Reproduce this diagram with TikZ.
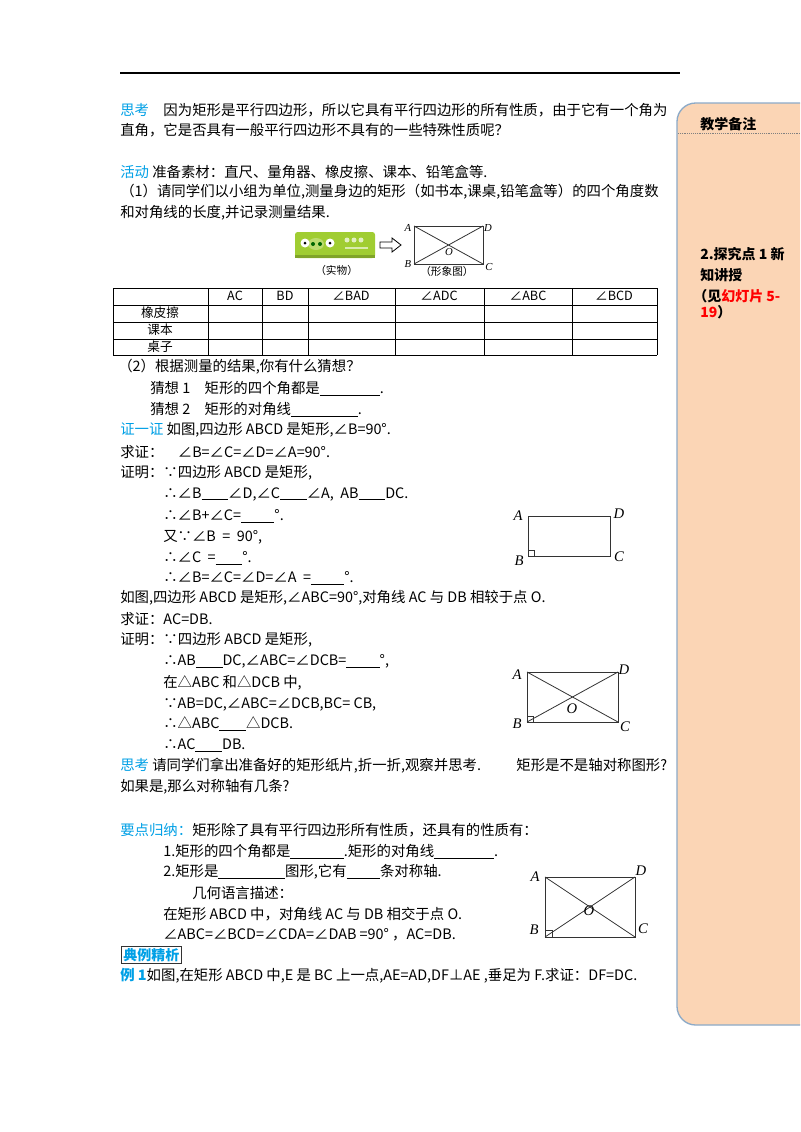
\documentclass[tikz,border=0pt]{standalone}
\usepackage{fontspec}
\setmainfont{Noto Sans CJK SC}
\newfontfamily\serifx{Liberation Serif}
\definecolor{kw}{RGB}{0,160,230}
\definecolor{peach}{RGB}{251,213,181}
\definecolor{sbord}{RGB}{140,170,200}
\definecolor{eras}{RGB}{160,205,50}
\newcommand{\bl}[1]{\rule[-1.5pt]{#1}{0.4pt}}
\tikzset{t/.style={anchor=west,inner sep=0pt,font=\fontsize{10.8}{12}\selectfont},
 lab/.style={inner sep=0pt,font=\serifx\itshape\fontsize{11}{12}\selectfont},
 rl/.style={draw=black!80,line width=0.6pt}}
\begin{document}
\begin{tikzpicture}[x=0.75pt,y=-0.75pt]
\useasboundingbox (0,0) rectangle (800,1132);
\fill[white] (0,0) rectangle (800,1132);
\draw[line width=0.8pt] (120,73) -- (680,73);
% sidebar
\filldraw[fill=peach,draw=sbord,line width=1pt,rounded corners=14] (800,1025) -- (677,1025) -- (677,103) -- (800,103);
\draw[densely dotted,gray] (678,133) -- (800,133);
\node[t,font=\bfseries\fontsize{10.5}{12}\selectfont] (sb1) at (700,124) {教学备注};
\node[t,font=\bfseries\fontsize{10.5}{12}\selectfont] (sb2) at (700,254) {2.探究点 1 新};
\node[t,font=\bfseries\fontsize{10.5}{12}\selectfont] (sb3) at (700,275) {知讲授};
\node[t,font=\bfseries\fontsize{10.5}{12}\selectfont] (sb4) at (693,296) {（见\textcolor{red}{幻灯片 5-}};
\node[t,font=\bfseries\fontsize{10.5}{12}\selectfont] (sb5) at (700,312) {\textcolor{red}{19}）};
% text
\node[t] (l1) at (120,110) {\textcolor{kw}{思考}\quad 因为矩形是平行四边形，所以它具有平行四边形的所有性质，由于它有一个角为};
\node[t] (l2) at (120,130) {直角，它是否具有一般平行四边形不具有的一些特殊性质呢？};
\node[t] (l3) at (120,172) {\textcolor{kw}{活动} 准备素材：直尺、量角器、橡皮擦、课本、铅笔盒等.};
\node[t] (l4) at (120,192) {（1）请同学们以小组为单位,测量身边的矩形（如书本,课桌,铅笔盒等）的四个角度数};
\node[t] (l5) at (120,213) {和对角线的长度,并记录测量结果.};
% eraser figure
\fill[eras,rounded corners=2] (295,232) rectangle (375,258);
\fill[eras!80!black] (295,255) rectangle (375,258);
\fill[eras!70!white] (316,244) ellipse (8 and 6);
\fill[white] (305,243) circle (4.5); \fill[white] (330,243) circle (4.5);
\fill[black] (305,243) circle (1.5); \fill[black] (330,243) circle (1.5);
\fill[green!40!black] (313,244) circle (2); \fill[green!40!black] (320,244) circle (2);
\fill[white!70!eras] (347,240) circle (2.5); \fill[white!70!eras] (354,240) circle (2.5); \fill[white!70!eras] (361,240) circle (2.5);
\fill[white!60!eras] (345,247) rectangle (368,249);
\node[t,font=\fontsize{8}{9}\selectfont] (e1) at (315,270) {（实物）};
\draw[line width=0.6pt] (380,242) -- (392,242) -- (392,238) -- (401,245) -- (392,252) -- (392,248) -- (380,248) -- cycle;
\coordinate (fa) at (414,226); \coordinate (fd) at (483,226);
\coordinate (fb) at (414,264); \coordinate (fc) at (483,264);
\draw[rl] (fa) rectangle (fc); \draw[rl] (fa) -- (fc); \draw[rl] (fb) -- (fd);
\node[lab,font=\serifx\itshape\fontsize{8}{9}\selectfont] (fla) at (408,228) {A};
\node[lab,font=\serifx\itshape\fontsize{8}{9}\selectfont] (fld) at (488,228) {D};
\node[lab,font=\serifx\itshape\fontsize{8}{9}\selectfont] (flb) at (408,264) {B};
\node[lab,font=\serifx\itshape\fontsize{8}{9}\selectfont] (flc) at (489,267) {C};
\node[lab,font=\serifx\itshape\fontsize{8}{9}\selectfont] (flo) at (449,252) {O};
\node[t,font=\fontsize{8}{9}\selectfont] (e2) at (420,271) {（形象图）};
% table
\foreach \y in {288,305,322,339,355} \draw[line width=0.6pt] (113,\y) -- (657,\y);
\foreach \x in {113,208,262,308,395,484,572,657} \draw[line width=0.6pt] (\x,288) -- (\x,355);
\foreach \x/\s in {235/AC,285/BD,351/∠BAD,439/∠ADC,528/∠ABC,614/∠BCD} \node[inner sep=0pt,font=\fontsize{9.5}{11}\selectfont] at (\x,296) {\s};
\node[inner sep=0pt,font=\fontsize{9.5}{11}\selectfont] (r1) at (160,313) {橡皮擦};
\node[inner sep=0pt,font=\fontsize{9.5}{11}\selectfont] (r2) at (160,330) {课本};
\node[inner sep=0pt,font=\fontsize{9.5}{11}\selectfont] (r3) at (160,347) {桌子};
% proof 1
\node[t] at (118,367) {（2）根据测量的结果,你有什么猜想？};
\node[t] at (150,388) {猜想 1\quad 矩形的四个角都是\bl{45pt}.};
\node[t] at (150,409) {猜想 2\quad 矩形的对角线\bl{50pt}.};
\node[t] at (120,430) {\textcolor{kw}{证一证} 如图,四边形 ABCD 是矩形,∠B=90°.};
\node[t] at (120,452) {求证：\quad ∠B=∠C=∠D=∠A=90°.};
\node[t] at (120,473) {证明：∵四边形 ABCD 是矩形,};
\node[t] at (163,494) {∴∠B\bl{20pt}∠D,∠C\bl{20pt}∠A,\ \ AB\bl{20pt}DC.};
\node[t] at (163,516) {∴∠B+∠C=\bl{25pt}°.};
\node[t] at (163,537) {又∵∠B\ \ =\ \ 90°,};
\node[t] at (163,558) {∴∠C\ \ =\bl{20pt}°.};
\node[t] at (163,578) {∴∠B=∠C=∠D=∠A\ \ =\bl{25pt}°.};
\coordinate (ga) at (528,516); \coordinate (gd) at (610,516);
\coordinate (gb) at (528,556); \coordinate (gc) at (610,556);
\draw[rl] (ga) rectangle (gc);
\draw[rl,line width=0.4pt] (528,550) -- (534,550) -- (534,556);
\node[lab] at (518,516) {A}; \node[lab] at (619,514) {D};
\node[lab] at (519,561) {B}; \node[lab] at (619,557) {C};
% proof 2
\node[t] at (120,598) {如图,四边形 ABCD 是矩形,∠ABC=90°,对角线 AC 与 DB 相较于点 O.};
\node[t] at (120,619) {求证：AC=DB.};
\node[t] at (120,640) {证明：∵四边形 ABCD 是矩形,};
\node[t] at (163,661) {∴AB\bl{20pt}DC,∠ABC=∠DCB=\bl{25pt}°,};
\node[t] at (163,683) {在△ABC 和△DCB 中,};
\node[t] at (163,704) {∵AB=DC,∠ABC=∠DCB,BC=\ CB,};
\node[t] at (163,724) {∴△ABC\bl{20pt}△DCB.};
\node[t] at (163,745) {∴AC\bl{20pt}DB.};
\coordinate (ha) at (527,672); \coordinate (hd) at (618,672);
\coordinate (hb) at (527,722); \coordinate (hc) at (618,722);
\draw[rl] (ha) rectangle (hc); \draw[rl] (ha) -- (hc); \draw[rl] (hb) -- (hd);
\draw[rl,line width=0.4pt] (527,716) -- (533,716) -- (533,722);
\node[lab] at (517,675) {A}; \node[lab] at (624,670) {D};
\node[lab] at (517,724) {B}; \node[lab] at (625,727) {C}; \node[lab] at (572,709) {O};
\node[t] at (120,766) {\textcolor{kw}{思考}\ 请同学们拿出准备好的矩形纸片,折一折,观察并思考.\qquad\ \ 矩形是不是轴对称图形?};
\node[t] at (120,787) {如果是,那么对称轴有几条?};
% summary
\node[t] at (120,830) {\textcolor{kw}{要点归纳：}矩形除了具有平行四边形所有性质，还具有的性质有：};
\node[t] at (163,851) {1.矩形的四个角都是\bl{40pt}.矩形的对角线\bl{45pt}.};
\node[t] at (163,872) {2.矩形是\bl{50pt}图形,它有\bl{25pt}条对称轴.};
\node[t] at (192,893) {几何语言描述：};
\node[t] at (163,914) {在矩形 ABCD 中，对角线 AC 与 DB 相交于点 O.};
\node[t] at (163,935) {∠ABC=∠BCD=∠CDA=∠DAB\ =90°\ ，AC=DB.};
\coordinate (ka) at (545,877); \coordinate (kd) at (635,877);
\coordinate (kb) at (545,937); \coordinate (kc) at (635,937);
\draw[rl] (ka) rectangle (kc); \draw[rl] (ka) -- (kc); \draw[rl] (kb) -- (kd);
\draw[rl,line width=0.4pt] (545,930) -- (552,930) -- (552,937);
\node[lab] at (535,877) {A}; \node[lab] at (641,871) {D};
\node[lab] at (534,930) {B}; \node[lab] at (643,929) {C}; \node[lab] at (589,911) {O};
\node[t,draw=black!80,inner sep=1.5pt,text=kw,font=\bfseries\fontsize{10.5}{12}\selectfont] at (121,955) {典例精析};
\node[t] at (120,976) {\textcolor{kw}{\bfseries 例 1}如图,在矩形 ABCD 中,E 是 BC 上一点,AE=AD,DF⊥AE\ ,垂足为 F.求证：DF=DC.};
\end{tikzpicture}
\end{document}
